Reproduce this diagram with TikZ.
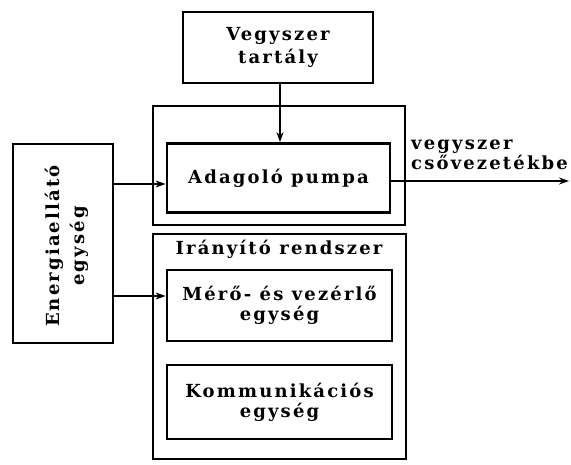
\documentclass[tikz,border=0pt]{standalone}
\usepackage{fontspec}
\setmainfont{DejaVu Serif}[BoldFont={DejaVu Serif Bold}, LetterSpace=12]
\usetikzlibrary{arrows.meta}
\tikzset{
  inbox/.style={draw, line width=2.8pt, inner sep=0pt, align=center, font=\bfseries\fontsize{18}{20}\selectfont},
  outbox/.style={draw, line width=1.3pt, inner sep=0pt},
  txt/.style={inner sep=0pt, align=center, font=\bfseries\fontsize{18}{20}\selectfont},
  conn/.style={line width=1.2pt, -{Stealth[length=10pt,width=7pt]}}
}
\begin{document}
\begin{tikzpicture}[x=1pt,y=-1pt]
\useasboundingbox (0,0) rectangle (571,465);
\node[outbox, minimum width=252pt, minimum height=119pt] (top) at (279,165.5) {};
\node[outbox, minimum width=253pt, minimum height=225pt] (ctrl) at (279.5,346.5) {};
\node[inbox, minimum width=190pt, minimum height=71pt, font=\bfseries\fontsize{18}{23}\selectfont] (tank) at (278,47.5) {Vegyszer\\tartály};
\node[inbox, minimum width=223pt, minimum height=69pt] (pump) at (278.5,178) {Adagoló pumpa};
\node[inbox, minimum width=100pt, minimum height=199pt] (energy) at (63,243.5) {};
\node[txt, rotate=90, font=\bfseries\fontsize{18}{25}\selectfont] (energytxt) at (67,246) {Energiaellátó\\egység};
\node[txt] (ctrltitle) at (279,249) {Irányító rendszer};
\node[inbox, minimum width=225pt, minimum height=71pt] (meas) at (279.5,305.5) {Mérő- és vezérlő\\egység};
\node[inbox, minimum width=225pt, minimum height=74pt] (comm) at (279.5,402) {Kommunikációs\\egység};
\node[txt, align=left, anchor=west] (outlbl) at (411,155) {vegyszer\\csővezetékbe};
\coordinate (outend) at (569,181);
\draw[conn] (tank.south -| 280,0) -- (pump.north -| 280,0);
\draw[conn] (energy.east |- 0,184) -- (pump.west |- 0,184);
\draw[conn] (energy.east |- 0,296) -- (meas.west |- 0,296);
\draw[conn] (pump.east |- 0,181) -- (outend);
\end{tikzpicture}
\end{document}
